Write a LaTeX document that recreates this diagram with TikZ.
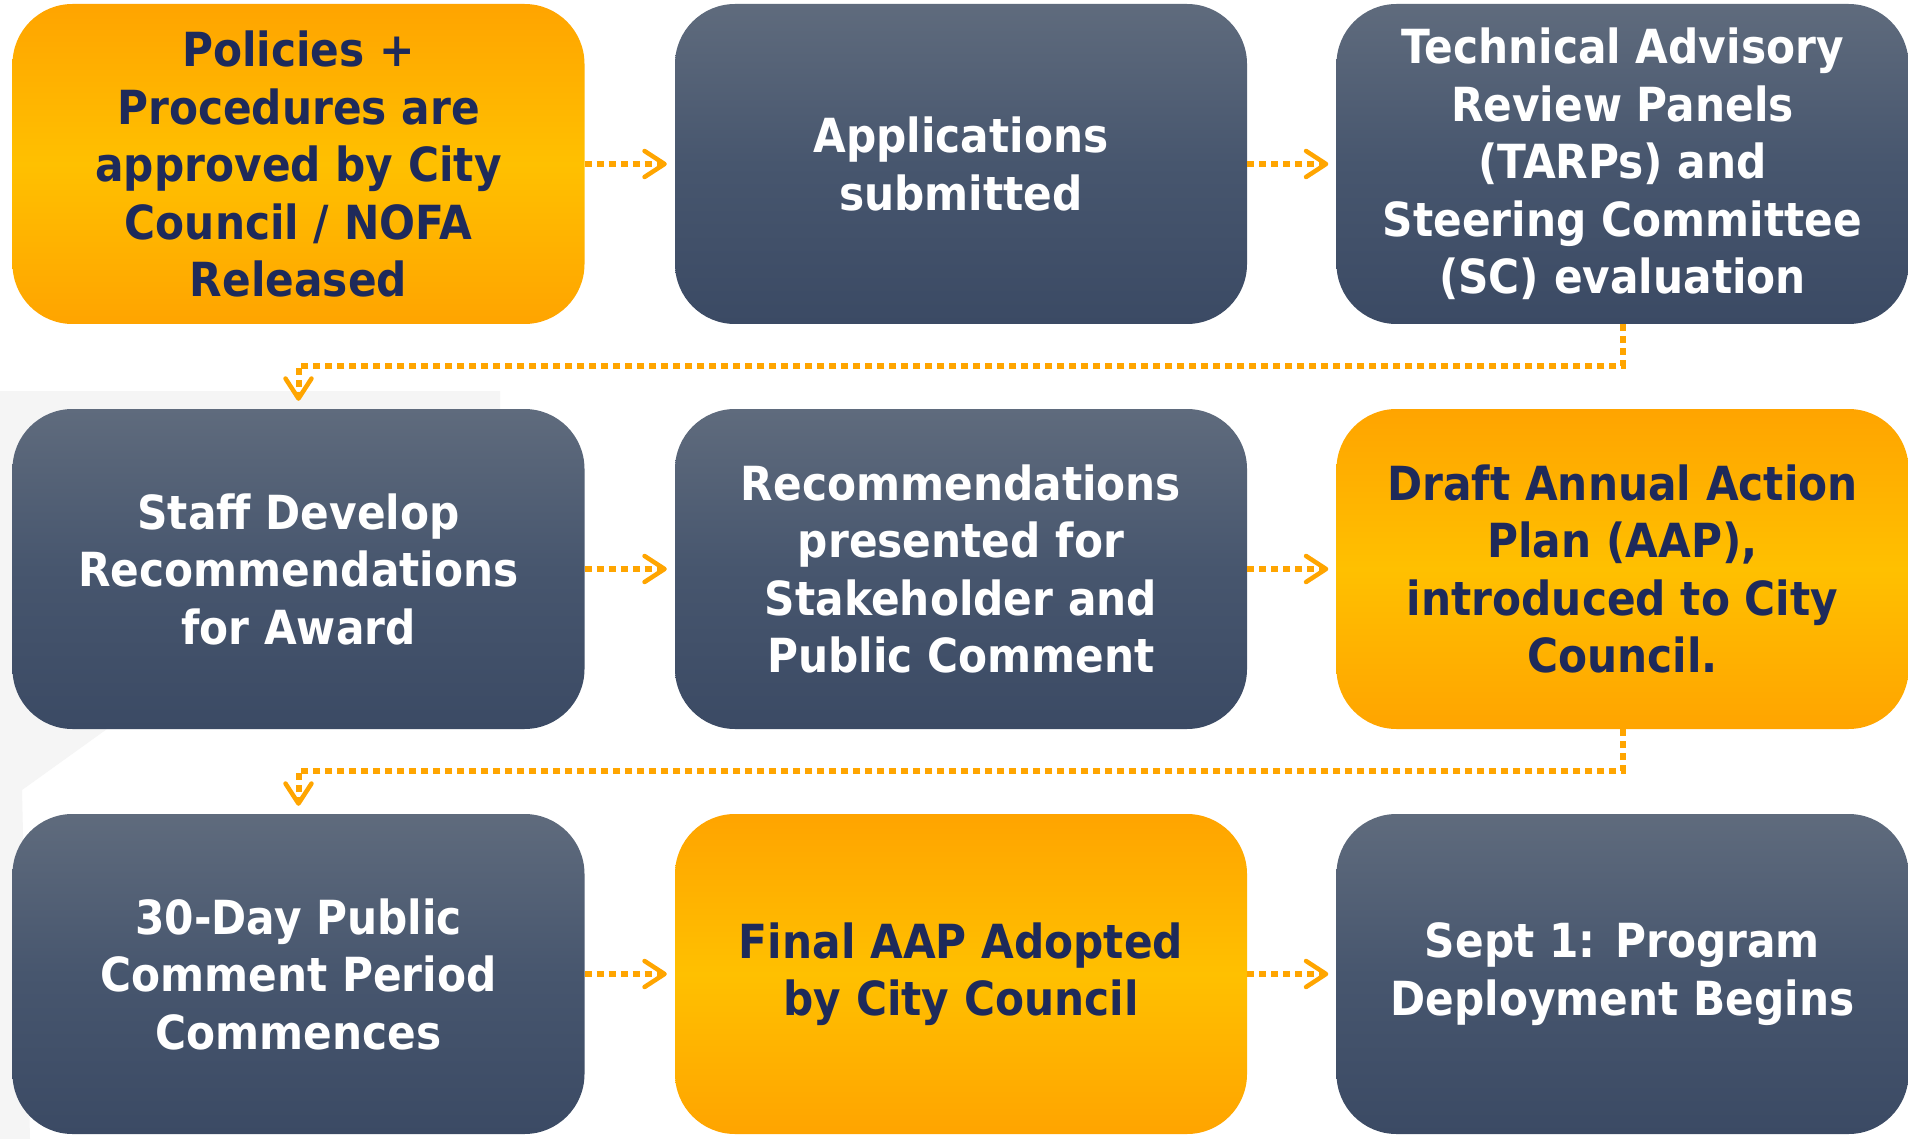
\documentclass[tikz,border=0pt]{standalone}
\usepackage{fontspec}
\setmainfont{DejaVu Sans}[FakeStretch=0.9]
\usetikzlibrary{arrows.meta}
\definecolor{navy}{HTML}{1E2A5A}
\definecolor{slateTop}{HTML}{5F6B7D}
\definecolor{slateMid}{HTML}{47566E}
\definecolor{slateBot}{HTML}{3B4A64}
\definecolor{orTop}{HTML}{FFA400}
\definecolor{orMid}{HTML}{FFC000}
\definecolor{linkcol}{HTML}{FFA500}
\definecolor{bggray}{HTML}{F5F5F5}
\begin{document}
\begin{tikzpicture}[x=1pt,y=-1pt,
  box/.style={rounded corners=60pt, minimum width=572pt, minimum height=320pt,
    inner sep=0pt, align=center, font=\fontsize{47}{57.5}\selectfont\bfseries},
  darkbox/.style={box, top color=slateTop, bottom color=slateBot, middle color=slateMid, text=white},
  goldbox/.style={box, top color=orTop, bottom color=orTop, middle color=orMid, text=navy},
  link/.style={draw=linkcol, line width=6pt, dash pattern=on 7pt off 5pt,
    -{Straight Barb[length=20pt,width=26pt,line width=4.5pt,round]}, shorten >=8pt}
]
\useasboundingbox (0,0) rectangle (1908,1139);
\fill[white] (0,0) rectangle (1908,1139);
% faint background shape
\fill[bggray] (0,391) -- (500,391) -- (500,729) -- (107,729) -- (22,790) -- (30,1139) -- (0,1139) -- cycle;

\node[goldbox] (policies) at (298.5,164) {Policies +\\Procedures are\\approved by City\\Council / NOFA\\Released};
\node[darkbox] (apps) at (961,164) {Applications\\submitted};
\node[darkbox] (tarp) at (1622.5,164) {Technical Advisory\\Review Panels\\(TARPs) and\\Steering Committee\\(SC) evaluation};

\node[darkbox] (staff) at (298.5,569) {Staff Develop\\Recommendations\\for Award};
\node[darkbox] (recs) at (961,569) {Recommendations\\presented for\\Stakeholder and\\Public Comment};
\node[goldbox] (draft) at (1622.5,569) {Draft Annual Action\\Plan (AAP),\\introduced to City\\Council.};

\node[darkbox] (comment) at (298.5,974) {30-Day Public\\Comment Period\\Commences};
\node[goldbox] (final) at (961,974) {Final AAP Adopted\\by City Council};
\node[darkbox] (sept) at (1622.5,974) {Sept 1: Program\\Deployment Begins};

\coordinate (m1) at (298.5,366);
\coordinate (m2) at (298.5,771);

\draw[link] (policies.east) -- (apps.west);
\draw[link] (apps.east) -- (tarp.west);
\draw[link] (staff.east) -- (recs.west);
\draw[link] (recs.east) -- (draft.west);
\draw[link] (comment.east) -- (final.west);
\draw[link] (final.east) -- (sept.west);
\draw[link] (tarp.south) |- (m1) -- (staff.north);
\draw[link] (draft.south) |- (m2) -- (comment.north);
\end{tikzpicture}
\end{document}
